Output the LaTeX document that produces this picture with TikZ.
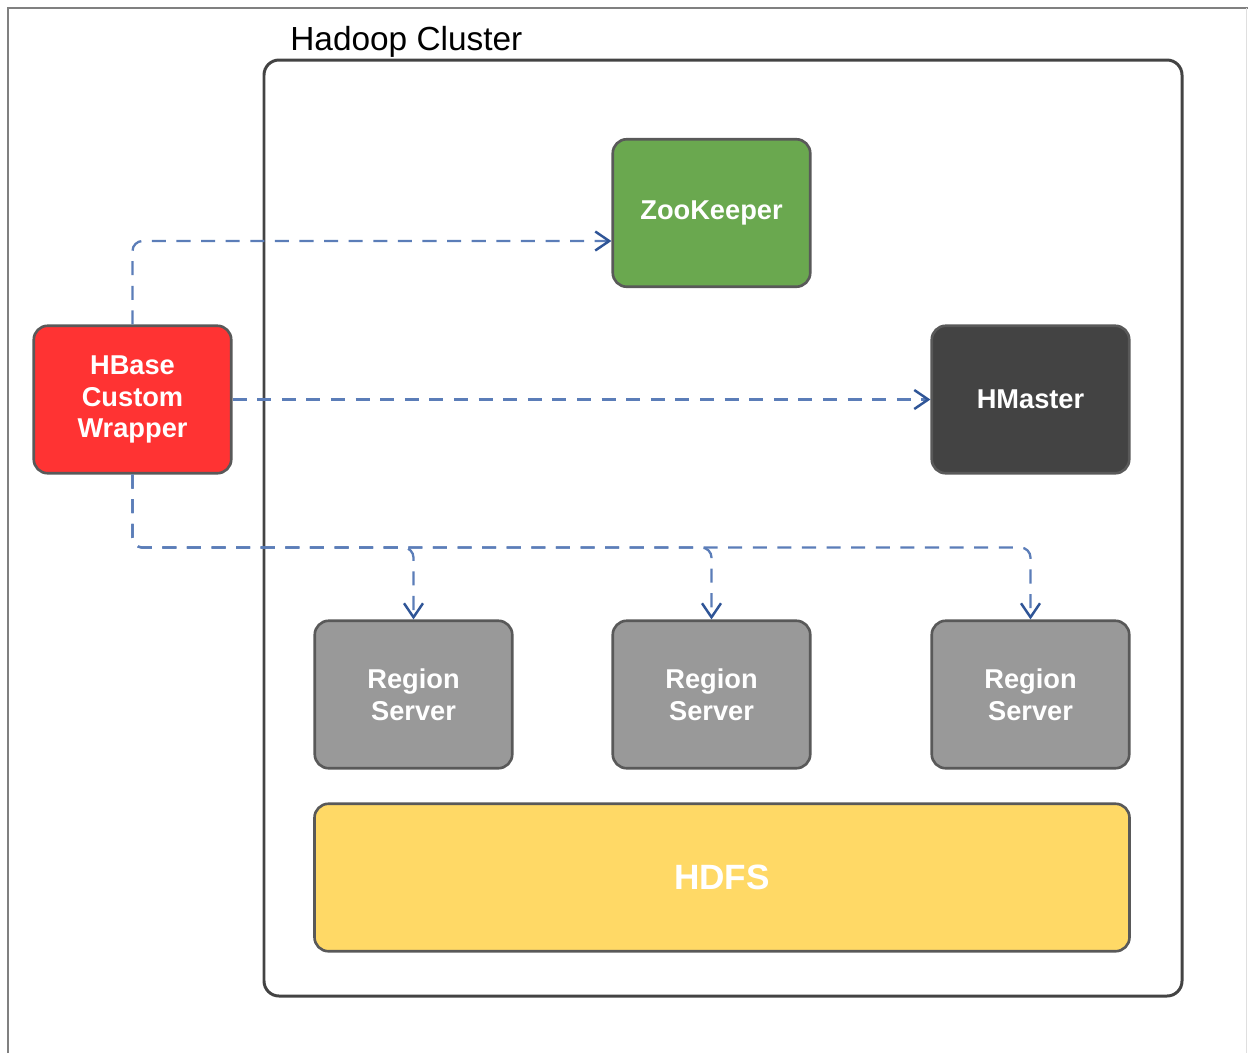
\documentclass[tikz,border=0pt]{standalone}
\usepackage{fontspec}
\setmainfont{Liberation Sans}
\usetikzlibrary{positioning,calc,arrows.meta}

\definecolor{zkgreen}{HTML}{6AA84F}
\definecolor{hmdark}{HTML}{434343}
\definecolor{wrapred}{HTML}{FF3333}
\definecolor{rsgray}{HTML}{999999}
\definecolor{hdfsyellow}{HTML}{FFD966}
\definecolor{edgegray}{HTML}{595959}
\definecolor{connblue}{HTML}{5B7DB8}
\definecolor{tipblue}{HTML}{2F5597}

\begin{document}
\begin{tikzpicture}
	\useasboundingbox (0, 0) rectangle (24.96, -21.06);
	\begin{scope}
		\tikzstyle{every node}=[align=center, inner sep=0.2em]
		\tikzstyle{box}=[draw=edgegray, line width=1.5pt, rounded corners=0.28cm,
			minimum width=3.95cm, minimum height=2.95cm, text=white,
			font=\fontsize{15.5}{18}\selectfont\bfseries]
		\tikzstyle{conn}=[connblue, line width=1.3pt, dash pattern=on 8pt off 6pt,
			rounded corners=0.2cm,
			-{Straight Barb[length=0.28cm, width=0.38cm, line width=1.4pt, color=tipblue]}]

		% outer frame
		\draw [gray, line width=0.9pt] (0.16, -21.06) -- (0.16, -0.16) -- (24.96, -0.16);
		\draw [gray!25, line width=0.6pt] (24.93, -0.16) -- (24.93, -21.06);

		% cluster
		\draw [hmdark, line width=1.7pt, rounded corners=0.3cm] (5.28, -1.2) rectangle (23.64, -19.92);
		\node [anchor=west, inner sep=0, font=\fontsize{19}{22}\selectfont] (title) at (5.8, -0.84) {Hadoop Cluster};

		\node [box, fill=zkgreen]   (zk)   at (14.23, -4.26)  {ZooKeeper};
		\node [box, fill=hmdark]    (hm)   at (20.61, -7.99)  {HMaster};
		\node [box, fill=wrapred]   (wrap) at (2.65, -7.99)   {HBase\\Custom\\Wrapper};

		\node [box, fill=rsgray] (rs1) at (8.27, -13.89)  {Region\\Server};
		\node [box, fill=rsgray] (rs2) at (14.23, -13.89) {Region\\Server};
		\node [box, fill=rsgray] (rs3) at (20.61, -13.89) {Region\\Server};

		\node [box, fill=hdfsyellow, minimum width=16.3cm, font=\fontsize{20}{24}\selectfont\bfseries] (hdfs) at (14.44, -17.55) {HDFS};

		\draw [conn] (wrap.north) |- ([yshift=-0.56cm]zk.west);
		\draw [conn] (wrap.east) -- (hm.west);

		\draw [conn] (wrap.south) -- ++(0, -1.46) -| (rs3.north);
		\draw [conn] (wrap.south) -- ++(0, -1.46) -| (rs2.north);
		\draw [conn] (wrap.south) -- ++(0, -1.46) -| (rs1.north);
	\end{scope}
\end{tikzpicture}
\end{document}
